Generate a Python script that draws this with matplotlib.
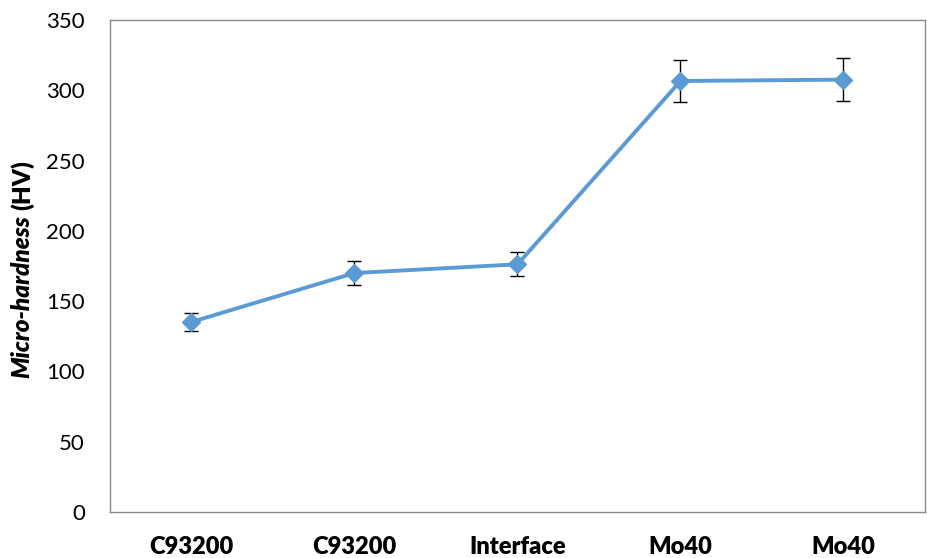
import matplotlib.pyplot as plt

# data
categories = ['C93200', 'C93200', 'Interface', 'Mo40', 'Mo40']
hardness = [135.2, 170.0, 176.2, 306.6, 307.6]
hardness_err = [6.7, 8.3, 8.5, 15.0, 15.3]

plt.rcParams['font.family'] = ['Lato', 'DejaVu Sans']

fig = plt.figure(figsize=(9.28, 5.58), dpi=100)
ax = fig.add_axes([110/928, 1 - 512/558, 815/928, 492/558])

xs = list(range(len(categories)))
ax.errorbar(xs, hardness, yerr=hardness_err, color='#5B9BD5', lw=2.8,
            marker='D', ms=9, mfc='#5B9BD5', mec='#5B9BD5',
            ecolor='black', elinewidth=1.0, capsize=5, capthick=1.0, zorder=3)

ax.set_xlim(-0.5, len(categories) - 0.5)
ax.set_ylim(0, 350)
ax.set_yticks(range(0, 351, 50))
ax.set_xticks(xs)
ax.set_xticklabels(categories, fontsize=17, fontweight='heavy')
ax.tick_params(axis='y', length=0, pad=18, labelsize=16)
ax.tick_params(axis='x', length=0, pad=17)
for s in ax.spines.values():
    s.set_color('#8a8a8a')
    s.set_linewidth(1.0)

# y label: italic bold part + bold part
fig.canvas.draw()
r = fig.canvas.get_renderer()
t1 = fig.text(22/928, 1 - 378/558, 'Micro-hardness', rotation=90, ha='center', va='bottom',
              fontsize=17.5, fontweight='heavy', fontstyle='italic')
bb = t1.get_window_extent(r)
fig.text(22/928, (bb.y1 + 5) / fig.bbox.height, '(HV)', rotation=90, ha='center', va='bottom',
         fontsize=17.5, fontweight='heavy')

fig.savefig('out.png', dpi=100)
